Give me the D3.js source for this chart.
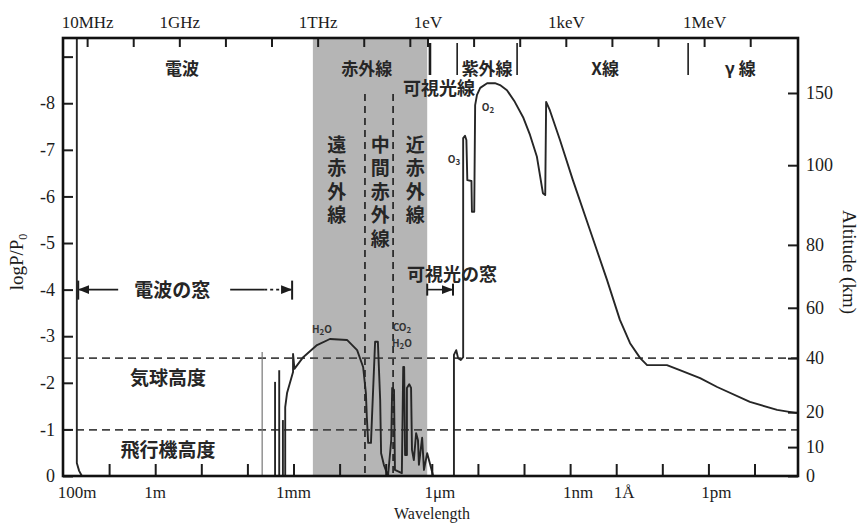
<!DOCTYPE html>
<html>
<head>
<meta charset="utf-8">
<script src="https://cdnjs.cloudflare.com/ajax/libs/d3/7.8.5/d3.min.js"></script>
<style>
  body { margin: 0; background: #fff; }
  .serif { font-family: 'Liberation Serif', 'DejaVu Serif', serif; }
  .jp { font-family: 'Noto Sans CJK JP', 'Noto Sans', sans-serif; }
</style>
</head>
<body>
<svg id="chart" width="859" height="524"></svg>
<script>
// curve points: [log10 wavelength (m), log P/P0]
var radioCutoff = [[1.70, -9.4], [1.70, -0.28], [1.65, -0.11], [1.59, 0]];
var microwaveSpikes = [[-2.32, -2.66], [-2.60, -2.02], [-2.69, -2.27], [-2.77, -1.20]];
var irCurve = [
  [-2.82, 0], [-2.82, -1.48], [-2.86, -1.78], [-2.99, -2.23], [-2.99, -2.62], [-3.02, -2.30],
  [-3.21, -2.55], [-3.51, -2.81], [-3.79, -2.94], [-4.16, -2.92], [-4.38, -2.70], [-4.51, -2.34],
  [-4.57, -1.78], [-4.59, -1.27], [-4.62, -0.71], [-4.68, -0.71], [-4.70, -1.20], [-4.77, -2.88],
  [-4.83, -2.88], [-4.88, -1.63], [-4.90, -0.49], [-4.96, -0.24], [-5.05, 0], [-5.12, -0.77],
  [-5.14, -1.89], [-5.18, -1.85], [-5.20, -0.13], [-5.35, -0.06], [-5.38, -2.34], [-5.40, -2.34],
  [-5.42, -0.45], [-5.46, -0.45], [-5.46, -1.89], [-5.51, -1.97], [-5.55, -1.89], [-5.57, -0.56],
  [-5.61, -0.34], [-5.66, -0.92], [-5.70, -0.77], [-5.72, -0.24], [-5.79, -0.82], [-5.83, -0.13],
  [-5.90, -0.49], [-6.03, 0]
];
var uvCurve = [
  [-6.48, 0], [-6.48, -2.60], [-6.53, -2.70], [-6.57, -2.53], [-6.63, -2.49], [-6.68, -2.55],
  [-6.68, -7.25], [-6.72, -7.30], [-6.75, -7.21], [-6.77, -6.35], [-6.86, -6.33], [-6.87, -5.67],
  [-6.92, -5.67], [-6.94, -7.96], [-6.98, -8.18], [-7.05, -8.33], [-7.20, -8.43], [-7.37, -8.43],
  [-7.48, -8.39], [-7.63, -8.28], [-7.80, -8.03], [-7.98, -7.70], [-8.13, -7.32], [-8.28, -6.85],
  [-8.41, -6.07], [-8.46, -6.03], [-8.48, -8.03], [-8.56, -7.85], [-8.78, -7.21], [-9.06, -6.35],
  [-9.43, -5.28], [-9.80, -4.21], [-10.08, -3.35], [-10.30, -2.85], [-10.52, -2.53], [-10.67, -2.38],
  [-11.10, -2.38], [-11.38, -2.27], [-11.82, -2.10], [-12.19, -1.91], [-12.90, -1.59],
  [-13.49, -1.42], [-13.92, -1.35]
];

var logPTicks = [0, -1, -2, -3, -4, -5, -6, -7, -8, -9];
var altitudeKm = [0, 10, 20, 40, 60, 80, 100, 150];
var altitudeLogP = [0, -0.62, -1.37, -2.53, -3.61, -4.96, -6.67, -8.22];
var wavelengthDecades = d3.range(1, -14, -1).map(function (e) { return Math.pow(10, e); });
var wavelengthLabels = [['100m', 1e2], ['1m', 1], ['1mm', 1e-3], ['1\u03bcm', 1e-6], ['1nm', 1e-9], ['1\u00c5', 1e-10], ['1pm', 1e-12]];
var frequencyTicksHz = [1e7, 1e8, 1e9, 1e10, 1e11, 1e12, 1e13, 1e14];
var frequencyLabels = { 1e7: '10MHz', 1e9: '1GHz', 1e12: '1THz' };
var energyTicksEv = [1, 1e1, 1e2, 1e3, 1e4, 1e5, 1e6, 1e7];
var energyLabels = { 1: '1eV', 1e3: '1keV', 1e6: '1MeV' };

var bandLabels = [['電波', -0.58], ['赤外線', -4.59], ['紫外線', -7.20], ['X線', -9.76], ['γ 線', -12.69]];
var bandDividers = [-5.96, -6.55, -7.85, -11.56];
var infraredRange = [-3.42, -5.90];
var infraredDividers = [-4.55, -5.16];
var infraredSubLabels = [['遠赤外線', -3.94], ['中間赤外線', -4.88], ['近赤外線', -5.64]];
var altitudeLines = [['気球高度', -2.53], ['飛行機高度', -0.99]];
var radioWindow = [1.67, -2.97];
var visibleWindow = [-5.90, -6.46];

var width = 859, height = 524;
var margin = { top: 38, right: 61, bottom: 48, left: 63 };
var x0 = margin.left, x1 = width - margin.right;
var y0 = height - margin.bottom, y1 = margin.top;
var c = 2.998e8, hc = 1.2398e-6;

var x = d3.scaleLog().domain([1e2, 1.14e-14]).range([x0, x1]);
var lx = function (v) { return x(Math.pow(10, v)); };
var y = d3.scaleLinear().domain([0, -9.4]).range([y0, y1]);
var yAlt = d3.scaleLinear().domain(altitudeKm).range(altitudeLogP.map(y));

var svg = d3.select('#chart');
var ink = '#1c1c1c';
var jpInk = '#262626';

var defs = svg.append('defs');
defs.append('marker')
  .attr('id', 'arrow')
  .attr('viewBox', '0 0 10 10')
  .attr('refX', 9).attr('refY', 5)
  .attr('markerWidth', 7).attr('markerHeight', 7)
  .attr('orient', 'auto-start-reverse')
  .append('path')
  .attr('d', 'M0,1 L10,5 L0,9 Z')
  .attr('fill', ink);

function jpText(px, py, txt, size, anchor) {
  return svg.append('text')
    .attr('class', 'jp')
    .attr('x', px).attr('y', py)
    .attr('text-anchor', anchor || 'start')
    .attr('font-size', size).attr('font-weight', 'bold')
    .attr('fill', jpInk)
    .text(txt);
}

// infrared band
svg.append('rect')
  .attr('x', lx(infraredRange[0]))
  .attr('y', y1)
  .attr('width', lx(infraredRange[1]) - lx(infraredRange[0]))
  .attr('height', y0 - y1)
  .attr('fill', '#b5b5b5');

svg.selectAll('.irdiv')
  .data(infraredDividers)
  .enter().append('line')
  .attr('x1', lx).attr('x2', lx)
  .attr('y1', y(-8.2)).attr('y2', y0)
  .attr('stroke', ink).attr('stroke-width', 1.6)
  .attr('stroke-dasharray', '7,5');

// altitude reference lines
svg.selectAll('.altline')
  .data(altitudeLines)
  .enter().append('line')
  .attr('x1', x0).attr('x2', x1)
  .attr('y1', function (d) { return y(d[1]); })
  .attr('y2', function (d) { return y(d[1]); })
  .attr('stroke', '#444').attr('stroke-width', 1.7)
  .attr('stroke-dasharray', '8,5');

altitudeLines.forEach(function (d) {
  jpText(168, y(d[1]) + 27, d[0], 19, 'middle');
});

// absorption curves
var line = d3.line()
  .x(function (d) { return lx(d[0]); })
  .y(function (d) { return y(d[1]); });

[radioCutoff, irCurve, uvCurve].forEach(function (pts) {
  svg.append('path')
    .attr('d', line(pts))
    .attr('fill', 'none')
    .attr('stroke', '#262626')
    .attr('stroke-width', 1.9)
    .attr('stroke-linejoin', 'round');
});

svg.selectAll('.spike')
  .data(microwaveSpikes)
  .enter().append('line')
  .attr('x1', function (d) { return lx(d[0]); })
  .attr('x2', function (d) { return lx(d[0]); })
  .attr('y1', y(0))
  .attr('y2', function (d) { return y(d[1]); })
  .attr('stroke', function (d, i) { return i === 0 ? '#777' : '#262626'; })
  .attr('stroke-width', function (d, i) { return i === 0 ? 1.2 : 1.9; });

// axes
var leftAxis = svg.append('g')
  .attr('transform', 'translate(' + x0 + ',0)')
  .call(d3.axisLeft(y).tickValues(logPTicks).tickSize(-10).tickPadding(8)
    .tickFormat(function (d) { return d === -9 ? '' : String(d); }));

var rightAxis = svg.append('g')
  .attr('transform', 'translate(' + x1 + ',0)')
  .call(d3.axisRight(yAlt).tickValues(altitudeKm).tickSize(-10).tickPadding(8)
    .tickFormat(String));

var bottomAxis = svg.append('g')
  .attr('transform', 'translate(0,' + y0 + ')')
  .call(d3.axisBottom(x).tickValues(wavelengthDecades).tickSize(-12).tickFormat(''));

var topTicks = frequencyTicksHz.map(function (f) { return { lam: c / f, label: frequencyLabels[f] || '' }; })
  .concat(energyTicksEv.map(function (e) { return { lam: hc / e, label: energyLabels[e] || '' }; }));

var topAxis = svg.append('g')
  .attr('transform', 'translate(0,' + y1 + ')')
  .call(d3.axisTop(x).tickValues(topTicks.map(function (d) { return d.lam; })).tickSize(-9).tickPadding(10)
    .tickFormat(function (d, i) { return topTicks[i].label; }));

[leftAxis, rightAxis, bottomAxis, topAxis].forEach(function (g) {
  g.select('.domain').remove();
  g.selectAll('.tick line').attr('stroke', ink).attr('stroke-width', 2);
  g.selectAll('.tick text')
    .attr('class', 'serif')
    .attr('font-size', 18)
    .attr('fill', ink);
});
topAxis.selectAll('.tick text').attr('font-size', 17);

svg.selectAll('.wlabel')
  .data(wavelengthLabels)
  .enter().append('text')
  .attr('class', 'serif')
  .attr('x', function (d) { return x(d[1]) + (d[1] >= 100 ? 14 : (d[1] < 1e-5 ? 8 : 0)); })
  .attr('y', 498)
  .attr('text-anchor', 'middle')
  .attr('font-size', 17)
  .attr('fill', ink)
  .text(function (d) { return d[0]; });

// frame
svg.append('rect')
  .attr('x', x0).attr('y', y1)
  .attr('width', x1 - x0).attr('height', y0 - y1)
  .attr('fill', 'none')
  .attr('stroke', '#111')
  .attr('stroke-width', 2.6);

// axis titles
svg.append('text')
  .attr('class', 'serif')
  .attr('x', 432).attr('y', 519)
  .attr('text-anchor', 'middle')
  .attr('font-size', 16).attr('fill', ink)
  .text('Wavelength');

var lt = svg.append('text')
  .attr('class', 'serif')
  .attr('transform', 'translate(23,262) rotate(-90)')
  .attr('text-anchor', 'middle')
  .attr('font-size', 19).attr('fill', ink);
lt.append('tspan').text('logP/P');
lt.append('tspan').attr('font-size', 12).attr('dy', 4).text('0');

svg.append('text')
  .attr('class', 'serif')
  .attr('transform', 'translate(843,262) rotate(90)')
  .attr('text-anchor', 'middle')
  .attr('font-size', 19).attr('fill', ink)
  .text('Altitude (km)');

// band names along the top
bandLabels.forEach(function (d) {
  jpText(lx(d[1]), 75, d[0], 17, 'middle');
});

svg.selectAll('.banddiv')
  .data(bandDividers)
  .enter().append('line')
  .attr('x1', lx).attr('x2', lx)
  .attr('y1', 43).attr('y2', 75)
  .attr('stroke', ink)
  .attr('stroke-width', function (d, i) { return i === 0 ? 2.6 : 1.6; });

jpText(403, 95, '可視光線', 18);

// infrared sub-bands, written vertically
infraredSubLabels.forEach(function (d) {
  jpText(lx(d[1]), 135, d[0], 19)
    .style('writing-mode', 'vertical-rl')
    .style('letter-spacing', '4.5px');
});

// windows
var wy = y(-4);
var rx1 = lx(radioWindow[0]), rx2 = lx(radioWindow[1]);
var rmid = (rx1 + rx2) / 2 - 13;
svg.append('line')
  .attr('x1', rmid - 54).attr('x2', rx1 + 1)
  .attr('y1', wy).attr('y2', wy)
  .attr('stroke', ink).attr('stroke-width', 1.6)
  .attr('marker-end', 'url(#arrow)');
svg.append('line')
  .attr('x1', rmid + 58).attr('x2', rmid + 92)
  .attr('y1', wy).attr('y2', wy)
  .attr('stroke', ink).attr('stroke-width', 1.6);
svg.append('line')
  .attr('x1', rmid + 92).attr('x2', rx2 - 1)
  .attr('y1', wy).attr('y2', wy)
  .attr('stroke', ink).attr('stroke-width', 1.6)
  .attr('stroke-dasharray', '3,3')
  .attr('marker-end', 'url(#arrow)');
[rx1, rx2].forEach(function (px) {
  svg.append('line')
    .attr('x1', px).attr('x2', px)
    .attr('y1', wy - 9).attr('y2', wy + 10)
    .attr('stroke', ink).attr('stroke-width', 2);
});
jpText(rmid, wy + 7, '電波の窓', 19, 'middle');

var vx1 = lx(visibleWindow[0]), vx2 = lx(visibleWindow[1]);
svg.append('line')
  .attr('x1', vx1).attr('x2', vx2 - 1)
  .attr('y1', wy).attr('y2', wy)
  .attr('stroke', ink).attr('stroke-width', 1.6)
  .attr('marker-end', 'url(#arrow)');
[vx1, vx2].forEach(function (px) {
  svg.append('line')
    .attr('x1', px).attr('x2', px)
    .attr('y1', wy - 6).attr('y2', wy + 6)
    .attr('stroke', ink).attr('stroke-width', 2);
});
jpText(407, 281, '可視光の窓', 18);

// molecule labels
var molecules = [['H', '2', 'O', 322, 333], ['CO', '2', '', 402, 331], ['H', '2', 'O', 402, 347], ['O', '3', '', 454, 163], ['O', '2', '', 488, 111]];
molecules.forEach(function (m) {
  var t = svg.append('text')
    .attr('class', 'jp')
    .attr('x', m[3]).attr('y', m[4])
    .attr('text-anchor', 'middle')
    .attr('font-size', 10).attr('font-weight', 'bold')
    .attr('fill', '#333');
  t.append('tspan').text(m[0]);
  t.append('tspan').attr('font-size', 8).attr('dy', 2).text(m[1]);
  if (m[2]) t.append('tspan').attr('dy', -2).text(m[2]);
});
</script>
</body>
</html>
